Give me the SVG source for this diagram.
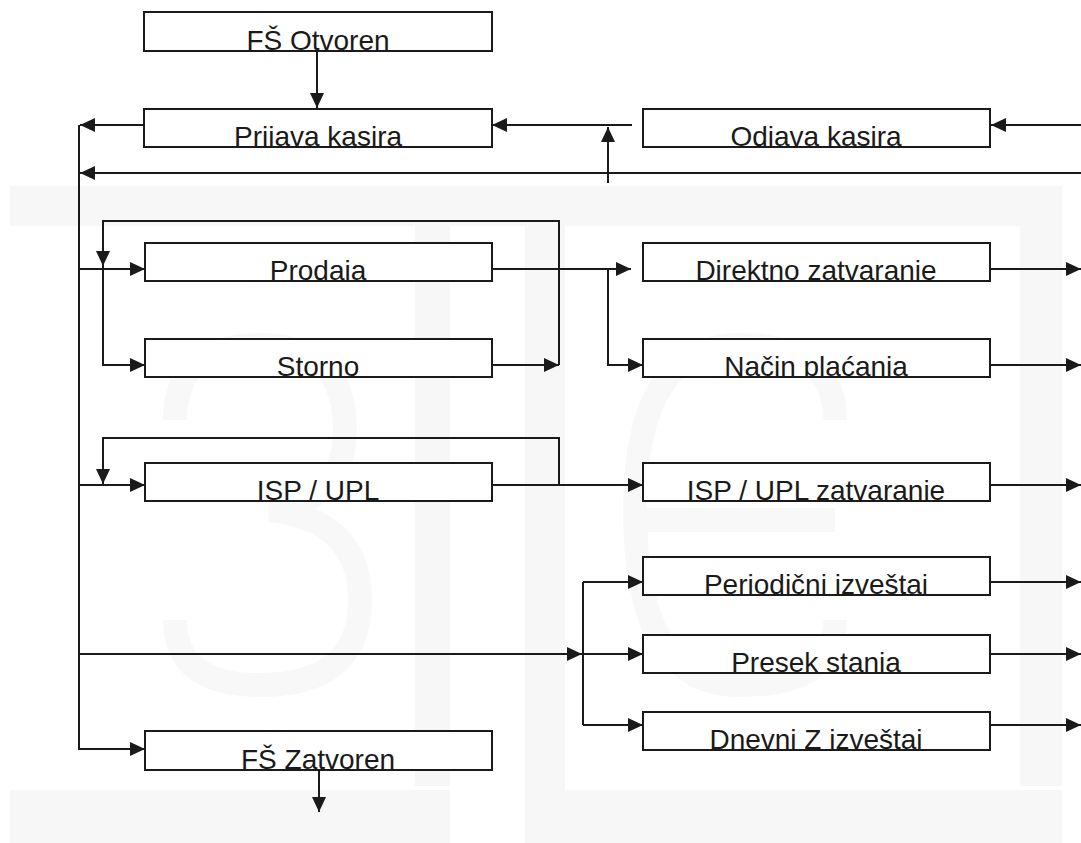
<svg xmlns="http://www.w3.org/2000/svg" width="1081" height="843" viewBox="0 0 1081 843">
<style>
.box{fill:none;stroke:#1a1a1a;stroke-width:2}
.bg{fill:#ffffff}
.lbl{font-family:"Liberation Sans",Arial,sans-serif;font-size:28px;fill:#1a1a1a;text-anchor:middle}
.ln{fill:none;stroke:#1a1a1a;stroke-width:2}
.arr{marker-end:url(#ah)}
.wm{fill:#f7f7f7}
.wms{fill:none;stroke:#f8f8f8}
</style>
<defs>
<marker id="ah" markerUnits="userSpaceOnUse" markerWidth="16" markerHeight="14" refX="15" refY="7" orient="auto">
<path d="M0,0 L15,7 L0,14 Z" fill="#1a1a1a"/>
</marker>
<clipPath id="c1" clipPathUnits="userSpaceOnUse"><rect x="144" y="12" width="348" height="39"/></clipPath>
<clipPath id="c2" clipPathUnits="userSpaceOnUse"><rect x="144" y="109" width="348" height="38"/></clipPath>
<clipPath id="c3" clipPathUnits="userSpaceOnUse"><rect x="145" y="243" width="347" height="38"/></clipPath>
<clipPath id="c4" clipPathUnits="userSpaceOnUse"><rect x="145" y="339" width="347" height="38"/></clipPath>
<clipPath id="c5" clipPathUnits="userSpaceOnUse"><rect x="145" y="463" width="347" height="38"/></clipPath>
<clipPath id="c6" clipPathUnits="userSpaceOnUse"><rect x="145" y="731" width="347" height="39"/></clipPath>
<clipPath id="c7" clipPathUnits="userSpaceOnUse"><rect x="643" y="109" width="347" height="38"/></clipPath>
<clipPath id="c8" clipPathUnits="userSpaceOnUse"><rect x="643" y="243" width="347" height="38"/></clipPath>
<clipPath id="c9" clipPathUnits="userSpaceOnUse"><rect x="643" y="339" width="347" height="38"/></clipPath>
<clipPath id="c10" clipPathUnits="userSpaceOnUse"><rect x="643" y="463" width="347" height="38"/></clipPath>
<clipPath id="c11" clipPathUnits="userSpaceOnUse"><rect x="643" y="557" width="347" height="38"/></clipPath>
<clipPath id="c12" clipPathUnits="userSpaceOnUse"><rect x="643" y="635" width="347" height="38"/></clipPath>
<clipPath id="c13" clipPathUnits="userSpaceOnUse"><rect x="643" y="712" width="347" height="38"/></clipPath>
</defs>
<rect x="0" y="0" width="1081" height="843" fill="#ffffff"/>
<g id="watermark">
<rect class="wm" x="10" y="186" width="1052" height="40"/>
<rect class="wm" x="1020" y="186" width="42" height="600"/>
<rect class="wm" x="415" y="226" width="35" height="560"/>
<rect class="wm" x="525" y="226" width="40" height="617"/>
<rect class="wm" x="10" y="790" width="440" height="53"/>
<rect class="wm" x="525" y="790" width="537" height="53"/>
<path class="wms" stroke-width="24" d="M175,420 Q175,345 260,345 Q345,345 345,430 Q345,500 270,510 Q360,520 360,600 Q360,685 260,685 Q175,685 175,620"/>
<path class="wms" stroke-width="24" d="M835,420 Q835,345 740,345 Q635,345 635,510 Q635,685 740,685 Q835,685 835,620 M645,520 H835"/>
</g>
<g id="connectors">
<path class="ln arr" d="M317,51 V108"/>
<path class="ln arr" d="M144,125 H80"/>
<path class="ln arr" d="M79,125 V749 H145"/>
<path class="ln arr" d="M1081,173 H80"/>
<path class="ln arr" d="M1081,125 H991"/>
<path class="ln arr" d="M632,125 H492"/>
<path class="ln arr" d="M608,183 V127"/>
<path class="ln arr" d="M79,269 H145"/>
<path class="ln arr" d="M559,365 V221 H103 V266"/>
<path class="ln arr" d="M103,266 V365 H145"/>
<path class="ln arr" d="M487,365 H559"/>
<path class="ln arr" d="M492,269 H631"/>
<path class="ln arr" d="M608,269 V365 H643"/>
<path class="ln arr" d="M79,485 H145"/>
<path class="ln arr" d="M559,485 V438 H103 V484"/>
<path class="ln arr" d="M492,485 H643"/>
<path class="ln arr" d="M79,654 H582"/>
<path class="ln" d="M583,582 V725"/>
<path class="ln arr" d="M583,582 H643"/>
<path class="ln arr" d="M583,654 H643"/>
<path class="ln arr" d="M583,725 H643"/>
<path class="ln arr" d="M990,269 H1081"/>
<path class="ln arr" d="M990,365 H1081"/>
<path class="ln arr" d="M990,485 H1081"/>
<path class="ln arr" d="M990,582 H1081"/>
<path class="ln arr" d="M990,654 H1081"/>
<path class="ln arr" d="M990,725 H1081"/>
<path class="ln arr" d="M319,770 V812"/>
</g>
<g id="n-fs-otvoren"><rect class="bg" x="144" y="12" width="348" height="39"/><text class="lbl" x="318" y="50" clip-path="url(#c1)">FŠ Otvoren</text><rect class="box" x="144" y="12" width="348" height="39"/></g>
<g id="n-prijava"><rect class="bg" x="144" y="109" width="348" height="38"/><text class="lbl" x="318" y="146" clip-path="url(#c2)">Prijava kasira</text><rect class="box" x="144" y="109" width="348" height="38"/></g>
<g id="n-prodaja"><rect class="bg" x="145" y="243" width="347" height="38"/><text class="lbl" x="318" y="280" clip-path="url(#c3)">Prodaja</text><rect class="box" x="145" y="243" width="347" height="38"/></g>
<g id="n-storno"><rect class="bg" x="145" y="339" width="347" height="38"/><text class="lbl" x="318" y="376" clip-path="url(#c4)">Storno</text><rect class="box" x="145" y="339" width="347" height="38"/></g>
<g id="n-isp-upl"><rect class="bg" x="145" y="463" width="347" height="38"/><text class="lbl" x="318" y="500" clip-path="url(#c5)">ISP / UPL</text><rect class="box" x="145" y="463" width="347" height="38"/></g>
<g id="n-fs-zatvoren"><rect class="bg" x="145" y="731" width="347" height="39"/><text class="lbl" x="318" y="769" clip-path="url(#c6)">FŠ Zatvoren</text><rect class="box" x="145" y="731" width="347" height="39"/></g>
<g id="n-odjava"><rect class="bg" x="643" y="109" width="347" height="38"/><text class="lbl" x="816" y="146" clip-path="url(#c7)">Odjava kasira</text><rect class="box" x="643" y="109" width="347" height="38"/></g>
<g id="n-direktno"><rect class="bg" x="643" y="243" width="347" height="38"/><text class="lbl" x="816" y="280" clip-path="url(#c8)">Direktno zatvaranje</text><rect class="box" x="643" y="243" width="347" height="38"/></g>
<g id="n-nacin"><rect class="bg" x="643" y="339" width="347" height="38"/><text class="lbl" x="816" y="376" clip-path="url(#c9)">Način plaćanja</text><rect class="box" x="643" y="339" width="347" height="38"/></g>
<g id="n-isp-upl-zatv"><rect class="bg" x="643" y="463" width="347" height="38"/><text class="lbl" x="816" y="500" clip-path="url(#c10)">ISP / UPL zatvaranje</text><rect class="box" x="643" y="463" width="347" height="38"/></g>
<g id="n-periodicni"><rect class="bg" x="643" y="557" width="347" height="38"/><text class="lbl" x="816" y="594" clip-path="url(#c11)">Periodični izveštaj</text><rect class="box" x="643" y="557" width="347" height="38"/></g>
<g id="n-presek"><rect class="bg" x="643" y="635" width="347" height="38"/><text class="lbl" x="816" y="672" clip-path="url(#c12)">Presek stanja</text><rect class="box" x="643" y="635" width="347" height="38"/></g>
<g id="n-dnevni"><rect class="bg" x="643" y="712" width="347" height="38"/><text class="lbl" x="816" y="749" clip-path="url(#c13)">Dnevni Z izveštaj</text><rect class="box" x="643" y="712" width="347" height="38"/></g>
</svg>
